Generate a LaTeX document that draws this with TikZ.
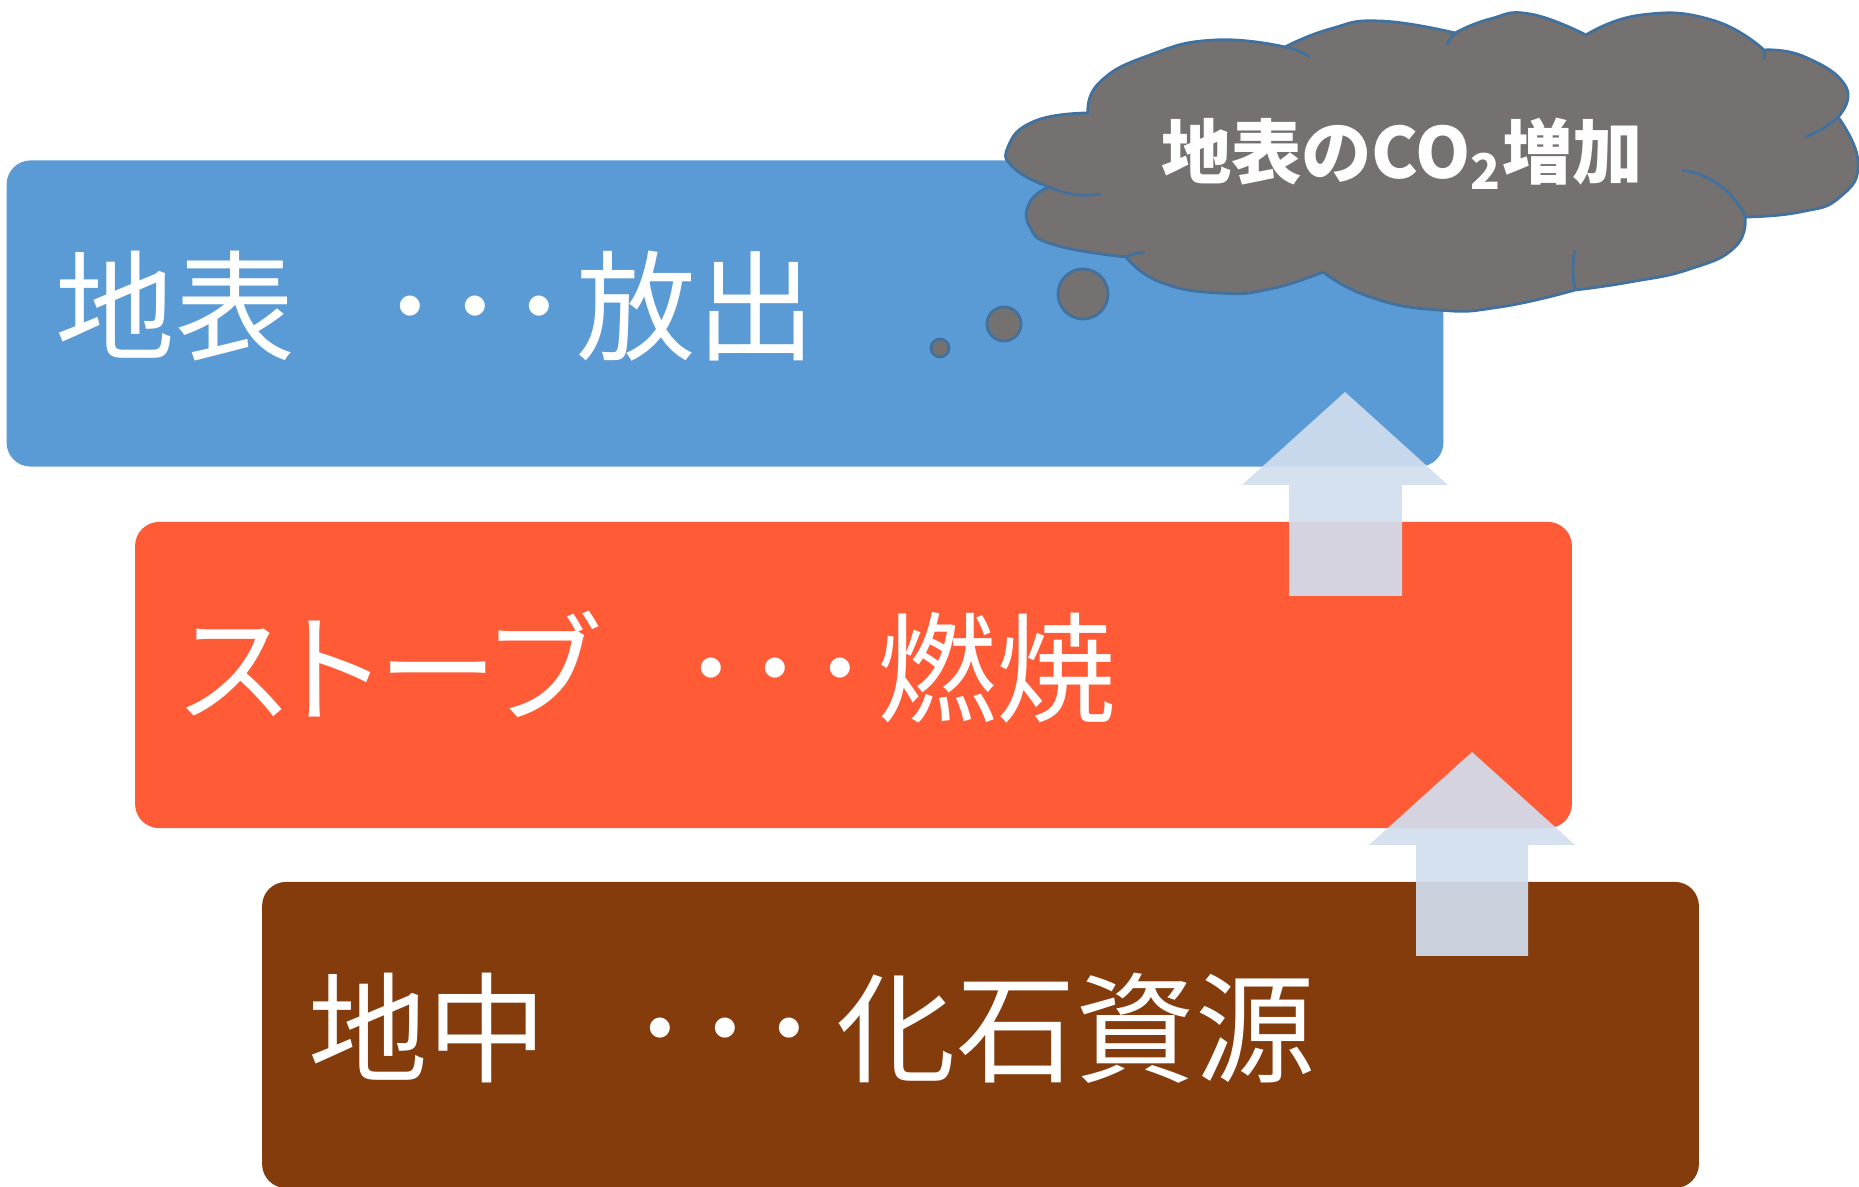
\documentclass[tikz,border=0pt]{standalone}
\usepackage{fontspec}
\newfontfamily\jpfont[RawFeature=+palt]{Noto Sans CJK JP}
\usetikzlibrary{positioning}

\definecolor{surfaceblue}{RGB}{91,155,213}
\definecolor{stovered}{RGB}{255,91,55}
\definecolor{groundbrown}{RGB}{132,60,12}
\definecolor{smokegray}{RGB}{118,113,113}
\definecolor{edgeblue}{RGB}{65,113,156}
\definecolor{arrowpale}{RGB}{210,222,239}

\newcommand\sandots{･\kern.04em･\kern.04em･\kern.06em}

\tikzset{
  layer/.style={rounded corners=0.24cm, minimum width=14.36cm, minimum height=3.06cm, inner sep=0pt},
  layertext/.style={anchor=west, inner sep=0pt, text=white, font=\jpfont\fontsize{34}{34}\selectfont},
  bubble/.style={circle, fill=smokegray, draw=edgeblue, line width=0.8pt, inner sep=0pt},
  uparrow/.style={fill=arrowpale, fill opacity=0.92},
  smoke/.style={fill=smokegray, draw=edgeblue, line width=0.8pt},
  puffline/.style={draw=edgeblue, line width=0.8pt},
}

\begin{document}
\begin{tikzpicture}[x=0.01cm,y=0.01cm]
 \useasboundingbox (0,0) rectangle (1859,1187);
 \node[layer, fill=surfaceblue] (surface) at (725,873.5) {};
 \node[layer, fill=stovered] (stove) at (853.5,512) {};
 \node[layer, fill=groundbrown] (ground) at (980.5,152) {};
 \node[layertext] (surfacetxt) at ([xshift=0.49cm,yshift=0.07cm]surface.west) {地表\hspace{.72em}\sandots 放出};
 \node[layertext] (stovetxt) at ([xshift=0.45cm,yshift=0.08cm]stove.west) {ストーブ\hspace{.72em}\sandots 燃焼};
 \node[layertext] (groundtxt) at ([xshift=0.46cm,yshift=0.07cm]ground.west) {地中\hspace{.7em}\sandots\kern.08em 化石資源};
 \fill[uparrow] (1289,591)--(1289,702)--(1242,702)--(1345,795)--(1448,702)--(1402,702)--(1402,591)--cycle;
 \fill[uparrow] (1416,231)--(1416,342)--(1369,342)--(1472,435)--(1575,342)--(1528,342)--(1528,231)--cycle;
 \node[bubble, minimum size=0.5cm] (puffbig) at (1083,893) {};
 \node[bubble, minimum size=0.34cm] (puffmid) at (1004,863) {};
 \node[bubble, minimum size=0.18cm] (puffsmall) at (940,839) {};
 \filldraw[smoke]
  plot[smooth, tension=.85] coordinates {(1049,1000) (1015,1018) (1008,1040) (1035,1066) (1088,1074)}
  -- plot[smooth, tension=.85] coordinates {(1088,1074) (1100,1105) (1150,1132) (1215,1147) (1285,1140)}
  -- plot[smooth, tension=.85] coordinates {(1285,1140) (1330,1158) (1380,1166) (1455,1154)}
  -- plot[smooth, tension=.85] coordinates {(1455,1154) (1490,1168) (1530,1173) (1586,1152)}
  -- plot[smooth, tension=.85] coordinates {(1586,1152) (1641,1172) (1712,1167) (1764,1137)}
  -- plot[smooth, tension=.85] coordinates {(1764,1137) (1805,1130) (1846,1100) (1838,1070)}
  -- plot[smooth, tension=.85] coordinates {(1838,1070) (1858,1025) (1840,990) (1800,975) (1745,970)}
  -- plot[smooth, tension=.85] coordinates {(1745,970) (1735,940) (1690,918) (1630,905) (1575,897)}
  -- plot[smooth, tension=.85] coordinates {(1575,897) (1500,880) (1438,877) (1370,890) (1323,915)}
  -- plot[smooth, tension=.85] coordinates {(1323,915) (1270,898) (1219,894) (1160,905) (1126,930)}
  -- plot[smooth, tension=.85] coordinates {(1126,930) (1055,942) (1030,960) (1030,985) (1049,1000)}
  -- cycle;
 \draw[puffline] (1049,1000) to[bend right=15] (1101,993);
 \draw[puffline] (1126,930) to[bend left=10] (1145,935);
 \draw[puffline] (1575,897) to[bend left=10] (1575,937);
 \draw[puffline] (1682,1017) to[bend left=25] (1745,972);
 \draw[puffline] (1838,1070) to[bend left=10] (1805,1050);
 \draw[puffline] (1764,1137) to[bend left=10] (1764,1127);
 \draw[puffline] (1455,1154) to[bend right=10] (1447,1142);
 \draw[puffline] (1285,1140) to[bend left=10] (1310,1130);
 \node[inner sep=0pt, text=white, font=\jpfont\bfseries\fontsize{20}{20}\selectfont] (co2) at (1402,1033) {地表のCO\textsubscript{2}増加};
\end{tikzpicture}
\end{document}
